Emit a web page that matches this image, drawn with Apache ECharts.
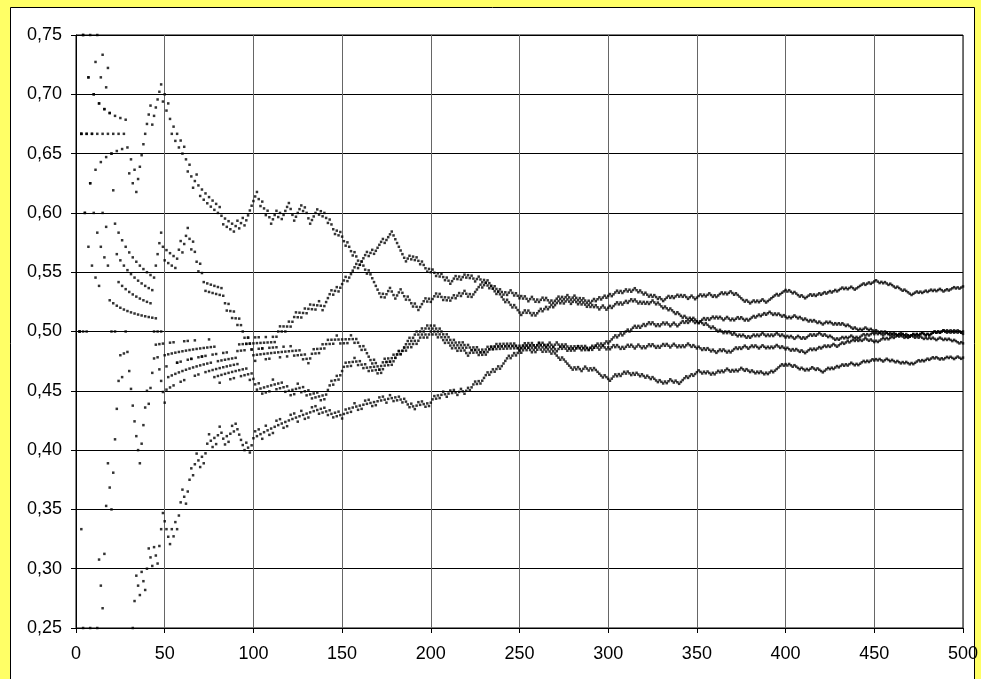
<!DOCTYPE html>
<html>
<head>
<meta charset="utf-8">
<script src="https://cdn.jsdelivr.net/npm/echarts@6/dist/echarts.min.js"></script>
<style>
  html, body { margin: 0; padding: 0; background: #FFFF66; overflow: hidden; }
  #chart { width: 981px; height: 679px; }
</style>
</head>
<body>
<div id="chart"></div>
<script>
// Tick labels
const xTicks = [0, 50, 100, 150, 200, 250, 300, 350, 400, 450, 500];
const yTicks = ['0,25','0,30','0,35','0,40','0,45','0,50','0,55','0,60','0,65','0,70','0,75'];

// Outcomes of each trial (1 = success, 0 = failure), in blocks of 10 trials.
const seriesA = [
 "1011011011","0110110110","1101101100","1010111111","1101111101",
 "0100101010","1001001100","1010101010","1001010101","1011011111",
 "1100100100","1110101111","0001111010","0011110101","0010001010",
 "0010001000","1000100000","0010111000","1110001000","1001111010",
 "1110100101","0110110110","0101111101","1001010010","0101100100",
 "1010011001","0110100101","1101011001","1001010010","1101101101",
 "1011101011","0101100100","1001010010","0111010110","1010011001",
 "1101011001","0111010110","0100000100","1101011001","1111101111",
 "0100100010","0111010110","1101101101","1101011001","1111011011",
 "1001010010","0010001000","0111010110","1101011001","1011101011"];
const seriesB = [
 "1010101101","0101101000","1011010101","0101010101","0100100100",
 "0110100101","1010011001","0101100100","0110100101","1101011001",
 "1010011001","1011101011","0111010110","1101011001","1111011011",
 "1101111101","1111011011","1110111100","0000001101","0100100010",
 "1001010010","0111010110","1010011001","0100000100","0010001000",
 "0110100101","1101101101","1101011001","1001010010","1010011001",
 "1011101011","0110100101","0101100100","0100100010","0010010100",
 "0100100010","0010010100","1001010010","1101011001","0101100100",
 "1010011001","0111010110","0100100010","1101011001","0111010110",
 "1010011001","1001010010","1101011001","0111010110","0101100100"];
const seriesC = [
 "1101101101","1101101100","0001010101","0101010101","0101111100",
 "1010101110","1110010001","0001010101","0100010010","0100001000",
 "0110100101","1010011001","1001010010","0111010110","1101011001",
 "0101100100","0100000100","0111010110","1101101101","1011101011",
 "0100100010","0010010100","0110100101","1101011001","1010011001",
 "0110100101","1010011001","1001010010","0110100101","1010011001",
 "0110100101","1010011001","0110100101","1010011001","0101100100",
 "1001010010","0110100101","1101011001","1010011001","0101100100",
 "1001010010","0111010110","1101011001","1101101101","0101100100",
 "1011101011","0110100101","1101011001","0111010110","1010011001"];
const seriesD = [
 "0100000100","0110011100","1111101100","0000001111","0111100000",
 "1101011001","0110100101","1001010010","0110100101","1001010010",
 "0010010101","1001010010","0101100100","1001010010","1111011011",
 "1101011001","0010010100","1011101011","1101111101","1101101101",
 "0100100010","0010010100","1001010010","0111010110","0101100100",
 "1101011001","1001010010","0110100101","1010011001","0111010110",
 "1111011011","1011101011","0110100101","1010011001","1101011001",
 "0111010110","1010011001","0110100101","1101101101","1001010010",
 "0101100100","1001010010","0110100101","0100100010","0101100100",
 "1001010010","0101100100","1001010010","1010011001","0100100010"];
const seriesE = [
 "0000100000","0001000100","0100010010","1111001001","1001001110",
 "0001010111","0011101100","1011100101","1000101101","0000010011",
 "1010011001","0110100101","1010011001","0110100101","0010010100",
 "1101011001","0110100101","1010011001","0100100010","0110100101",
 "1101011001","1010011001","1011101011","1101101101","1111011011",
 "0110100101","1001010010","0001000000","1010011001","0100000100",
 "0111010110","1001010010","0100100010","0101100100","1111011011",
 "1001010010","1101011001","0101100100","1001010010","1101111101",
 "0100100010","0101100100","0111010110","1101011001","0111010110",
 "1010011001","0010010100","1011101011","0110100101","1010011001"];

function relFreq(blocks) {
  const s = blocks.join('');
  const pts = [];
  let k = 0;
  for (let i = 0; i < s.length; i++) {
    if (s[i] === '1') k++;
    pts.push([i + 1, k / (i + 1)]);
  }
  return pts;
}

const allSeries = [seriesA, seriesB, seriesC, seriesD, seriesE].map(function (b) {
  return {
    type: 'scatter',
    data: relFreq(b),
    symbol: 'rect',
    symbolSize: 2.5,
    itemStyle: { color: '#000' },
    clip: true,
    silent: true
  };
});

const chart = echarts.init(document.getElementById('chart'), null, { renderer: 'canvas' });
chart.setOption({
  animation: false,
  backgroundColor: '#FFFF66',
  graphic: [{
    type: 'rect', z: -10,
    shape: { x: 10.5, y: 7.5, width: 964, height: 700 },
    style: { fill: '#fff', stroke: '#000', lineWidth: 1 }
  }],
  grid: { left: 76, top: 35, width: 892, height: 593, show: true, borderColor: '#000', borderWidth: 1, backgroundColor: '#fff' },
  xAxis: {
    type: 'value', min: 0, max: 500, interval: 50,
    axisLine: { lineStyle: { color: '#000', width: 1 } },
    axisTick: { show: true, length: 5, lineStyle: { color: '#000' } },
    axisLabel: { margin: 17, color: '#000', fontSize: 18, fontFamily: 'Liberation Sans, Arial, sans-serif',
      formatter: function (v) { return xTicks.indexOf(v) >= 0 ? String(v) : ''; } },
    splitLine: { show: true, lineStyle: { color: '#666', width: 1 } }
  },
  yAxis: {
    type: 'value', min: 0.25, max: 0.75, interval: 0.05,
    axisLine: { show: true, lineStyle: { color: '#000', width: 1 } },
    axisTick: { show: true, length: 5, lineStyle: { color: '#000' } },
    axisLabel: { margin: 14, color: '#000', fontSize: 18, fontFamily: 'Liberation Sans, Arial, sans-serif',
      formatter: function (v) { return yTicks[Math.round((v - 0.25) / 0.05)]; } },
    splitLine: { show: true, lineStyle: { color: '#000', width: 1 } }
  },
  series: allSeries
});
</script>
</body>
</html>
